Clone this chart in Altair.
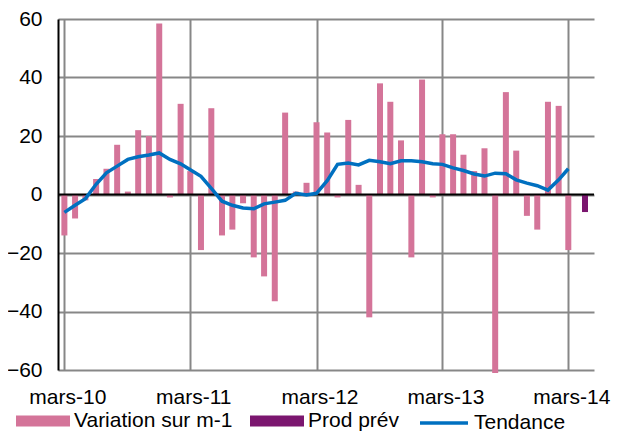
import altair as alt
import pandas as pd

# ---- data ----
months = [d.strftime("%Y-%m-%d") for d in pd.date_range("2010-03-01", periods=49, freq="MS")]

variation = [-14, -8.2, -2, 5.3, 8.8, 17, 1, 22, 20, 58.5,
             -1, 31, 8, -19, 29.5, -14, -12, -3, -21.5, -28,
             -36.5, 28, 1, 4, 24.7, 21.2, -1, 25.5, 3.3, -42,
             38, 31.7, 18.5, -21.5, 39.3, -1, 20.6, 20.6, 13.6, 8,
             15.8, -61, 35, 15, -7.3, -12, 31.7, 30.3, -19]

tendance = [-6.1, -3.7, -1.4, 3.5, 7.4, 9.7, 12.0, 12.9, 13.5, 14.2,
            12.0, 10.5, 8.5, 6.2, 2.1, -2.3, -3.7, -4.6, -4.9, -3.2,
            -2.6, -2.0, 0.4, -0.2, 0.4, 4.7, 10.3, 10.8, 10.1, 11.7,
            11.2, 10.5, 11.5, 11.5, 11.2, 10.5, 10.3, 9.1, 8.2, 7.0,
            6.3, 7.3, 7.1, 5.0, 3.9, 3.0, 1.5, 5.0, 8.8]

prev_months = ["2014-04-01"]
prod_prev = [-6.0]

bar_series = ["Variation sur m-1", "Prod prév"]
bar_colors = ["#D47499", "#7B166F"]
line_series = ["Tendance"]
line_colors = ["#0070C0"]

y_ticks = [-60, -40, -20, 0, 20, 40, 60]
x_tick_years = [2010, 2011, 2012, 2013, 2014]

df_var = pd.DataFrame({"month": months, "value": variation, "serie": bar_series[0]})
df_prev = pd.DataFrame({"month": prev_months, "value": prod_prev, "serie": bar_series[1]})
df_line = pd.DataFrame({"month": months, "value": tendance, "courbe": line_series[0]})
df_zero = pd.DataFrame({"z": [0]})

FONT = "Liberation Sans"
GRID = "#878787"

x_scale = alt.Scale(
    type="utc",
    domain=[alt.DateTime(year=2010, month=2, date=25, utc=True),
            alt.DateTime(year=2014, month=4, date=30, utc=True)],
)
x_axis = alt.Axis(
    values=[alt.DateTime(year=y, month=3, date=1, utc=True) for y in x_tick_years],
    labelExpr="'mars-' + utcFormat(datum.value, '%y')",
    grid=True, gridColor=GRID, gridWidth=2,
    domain=False, ticks=False, tickSize=0,
    labelPadding=16, labelOffset=3,
    labelFont=FONT, labelFontSize=21, labelColor="black",
    title=None,
)
y_scale = alt.Scale(domain=[-60, 60], nice=False)
y_axis = alt.Axis(
    values=y_ticks, grid=True, gridColor=GRID, gridWidth=2,
    domain=True, domainColor="black", domainWidth=2,
    ticks=False, tickSize=0, labelPadding=16,
    labelFont=FONT, labelFontSize=21, labelColor="black",
    title=None,
)

color_scale = alt.Scale(domain=bar_series, range=bar_colors)
bar_legend = alt.Legend(
    title=None, orient="none", direction="horizontal",
    legendX=-42, legendY=375,
    symbolType="M-1,-0.2H1V0.2H-1Z", symbolSize=2916, symbolStrokeWidth=0,
    symbolOpacity=1,
    labelFont=FONT, labelFontSize=21, labelColor="black", labelLimit=400,
    labelOffset=4, columnPadding=17, padding=0,
)
stroke_scale = alt.Scale(domain=line_series, range=line_colors)
line_legend = alt.Legend(
    title=None, orient="none", direction="horizontal",
    legendX=360, legendY=378,
    symbolType="stroke", symbolSize=2304, symbolStrokeWidth=3.5,
    labelFont=FONT, labelFontSize=21, labelColor="black", labelLimit=400,
    labelOffset=4, padding=0,
)

bars = alt.Chart(df_var).mark_bar(size=6).encode(
    x=alt.X("month:T", scale=x_scale, axis=x_axis),
    y=alt.Y("value:Q", scale=y_scale, axis=y_axis, stack=None),
    color=alt.Color("serie:N", scale=color_scale, legend=bar_legend),
)

prev = alt.Chart(df_prev).mark_bar(size=6, xOffset=6).encode(
    x=alt.X("month:T"),
    y=alt.Y("value:Q", stack=None),
    color=alt.Color("serie:N"),
)

zero = alt.Chart(df_zero).mark_rule(color="black", strokeWidth=2).encode(
    y=alt.Y("z:Q"),
)

line = alt.Chart(df_line).mark_line(strokeWidth=3.5).encode(
    x=alt.X("month:T"),
    y=alt.Y("value:Q"),
    stroke=alt.Stroke("courbe:N", scale=stroke_scale, legend=line_legend),
)

chart = alt.layer(bars, prev, zero, line).properties(
    width=536, height=351,
    autosize=alt.AutoSizeParams(type="none"),
    padding={"left": 50, "top": 11, "right": 20, "bottom": 63},
    background="white",
).configure_view(stroke=None)

chart.save("out.html", embed_options={"renderer": "svg", "actions": False})
